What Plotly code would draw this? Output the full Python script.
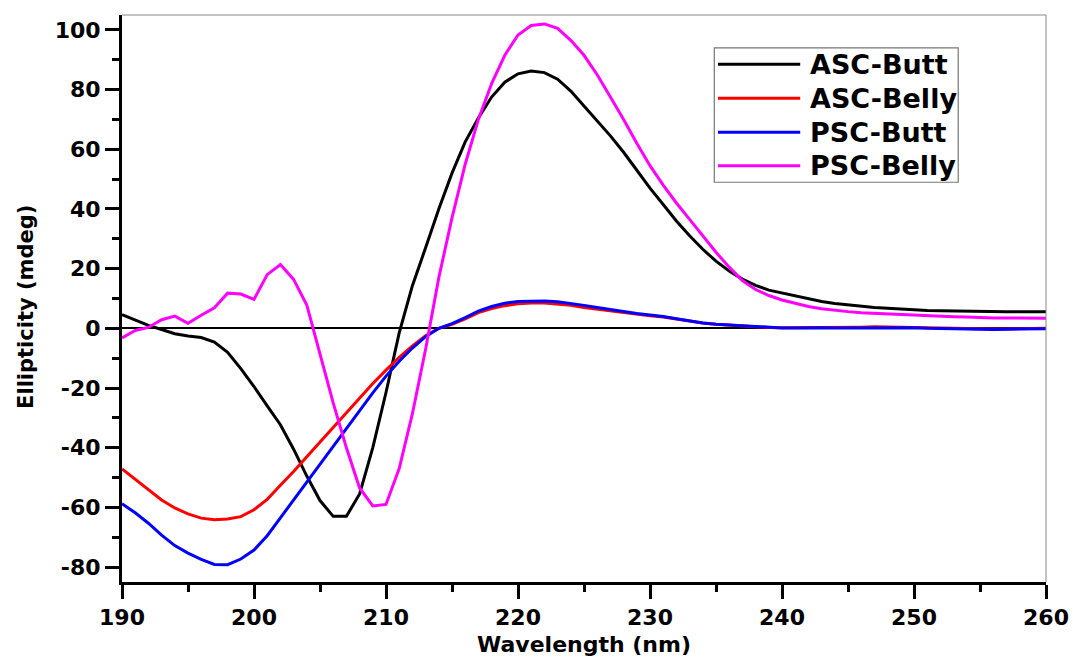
import plotly.graph_objects as go

wavelength = list(range(190, 261))

asc_butt = [4.6, 2.7, 1.0, -0.4, -1.8, -2.6, -3.1, -4.6, -8.0, -13.5,
            -19.5, -26.0, -32.3, -40.5, -49.5, -57.7, -63.0, -63.0, -55.5, -40.0,
            -21.5, -1.5, 14.3, 27.0, 40.0, 52.0, 62.5, 70.5, 77.5, 82.5,
            85.3, 86.2, 85.7, 83.5, 79.5, 74.5, 69.5, 64.5, 59.0, 53.0,
            47.0, 41.5, 36.0, 31.0, 26.5, 22.5, 19.2, 16.5, 14.4, 12.8,
            11.8, 10.8, 9.8, 9.0, 8.3, 7.8, 7.3, 7.0, 6.7, 6.4,
            6.2, 6.0, 5.9, 5.8, 5.7, 5.6, 5.6, 5.6, 5.6, 5.6,
            5.6]

asc_belly = [-47.1, -50.5, -54.0, -57.5, -60.2, -62.2, -63.6, -64.1, -63.9, -63.1,
             -60.8, -57.3, -52.6, -48.0, -43.0, -38.1, -33.3, -28.4, -23.3, -18.5,
             -14.0, -9.7, -5.9, -2.5, 0.0, 1.3, 3.2, 5.3, 6.6, 7.6,
             8.2, 8.5, 8.5, 8.2, 7.7, 7.0, 6.4, 5.8, 5.2, 4.6,
             4.2, 3.8, 3.1, 2.4, 1.8, 1.4, 1.1, 0.8, 0.5, 0.3,
             0.2, 0.2, 0.3, 0.4, 0.3, 0.3, 0.4, 0.5, 0.4, 0.3,
             0.2, 0.1, 0.0, -0.1, -0.1, -0.2, -0.2, -0.2, -0.1, 0.0,
             0.0]

psc_butt = [-58.8, -61.8, -65.3, -69.3, -72.8, -75.3, -77.4, -79.1, -79.2, -77.3,
            -74.3, -69.5, -63.5, -57.5, -51.3, -45.2, -39.3, -33.5, -27.6, -21.6,
            -16.0, -11.0, -6.6, -2.8, 0.0, 1.6, 3.6, 5.8, 7.3, 8.4,
            9.0, 9.2, 9.2, 8.9, 8.4, 7.7, 7.0, 6.3, 5.6, 5.0,
            4.5, 4.0, 3.2, 2.4, 1.8, 1.4, 1.1, 0.9, 0.6, 0.3,
            0.1, 0.1, 0.2, 0.2, 0.1, 0.1, 0.2, 0.3, 0.3, 0.3,
            0.2, 0.0, -0.1, -0.2, -0.2, -0.3, -0.4, -0.3, -0.2, -0.1,
            -0.1]

psc_belly = [-3.2, -0.7, 0.3, 2.9, 4.1, 1.7, 4.4, 6.9, 11.8, 11.5,
             9.7, 18.0, 21.4, 16.4, 7.8, -9.0, -25.0, -40.0, -53.5, -59.5,
             -59.0, -47.0, -28.6, -7.0, 17.0, 37.0, 55.0, 70.0, 82.0, 91.5,
             98.3, 101.5, 102.0, 100.5, 96.5, 91.5, 85.0, 77.5, 70.0, 62.0,
             54.5, 48.0, 42.0, 36.5, 31.0, 25.5, 20.5, 16.0, 13.0, 11.0,
             9.5, 8.3, 7.3, 6.6, 6.0, 5.6, 5.2, 5.0, 4.7, 4.5,
             4.3, 4.1, 4.0, 3.9, 3.8, 3.6, 3.5, 3.5, 3.4, 3.4,
             3.4]

series_names = ["ASC-Butt", "ASC-Belly", "PSC-Butt", "PSC-Belly"]
series_values = [asc_butt, asc_belly, psc_butt, psc_belly]
series_colors = ["#000000", "#FF0000", "#0000FF", "#FF00FF"]

x_ticks = [190, 200, 210, 220, 230, 240, 250, 260]
x_ticktext = ["190", "200", "210", "220", "230", "240", "250", "260"]
y_ticks = [-80, -60, -40, -20, 0, 20, 40, 60, 80, 100]
y_ticktext = ["-80", "-60", "-40", "-20", "0", "20", "40", "60", "80", "100"]

FONT = "DejaVu Sans"

fig = go.Figure()
for name, vals, col in zip(series_names, series_values, series_colors):
    fig.add_trace(go.Scatter(x=wavelength, y=vals, mode="lines", name=name,
                             line=dict(color=col, width=3), showlegend=False))

axis_common = dict(
    showline=True, linewidth=3, linecolor="black", mirror=False,
    ticks="outside", ticklen=14, tickwidth=2.5, tickcolor="black",
    showgrid=False, automargin=False,
    tickfont=dict(family=FONT, size=22, color="black", weight="bold"),
)

fig.update_xaxes(range=[190, 260], tickvals=x_ticks, ticktext=x_ticktext,
                 minor=dict(ticks="outside", ticklen=7, tickwidth=2.5, tickcolor="black", dtick=5, tick0=190),
                 zeroline=False, **axis_common)
fig.update_yaxes(range=[-85, 105], tickvals=y_ticks, ticktext=y_ticktext,
                 minor=dict(ticks="outside", ticklen=7, tickwidth=2.5, tickcolor="black", dtick=10, tick0=0),
                 zeroline=True, zerolinecolor="black", zerolinewidth=2, **axis_common)

# axis titles
fig.add_annotation(xref="paper", yref="paper", x=0.5, y=-0.111, text="Wavelength (nm)",
                   showarrow=False, xanchor="center", yanchor="middle",
                   font=dict(family=FONT, size=22, color="black", weight="bold"))
fig.add_annotation(xref="paper", yref="paper", x=-0.104, y=0.485, text="Ellipticity (mdeg)",
                   showarrow=False, xanchor="center", yanchor="middle", textangle=-90,
                   font=dict(family=FONT, size=21, color="black", weight="bold"))

# thin top / right frame
fig.add_shape(type="line", xref="paper", yref="paper", x0=0, x1=1, y0=1, y1=1,
              line=dict(color="#888888", width=1))
fig.add_shape(type="line", xref="paper", yref="paper", x0=1, x1=1, y0=0, y1=1,
              line=dict(color="#888888", width=1))

# legend (manual, Origin-style)
lx0, lx1, ly0, ly1 = 0.641, 0.905, 0.705, 0.942
fig.add_shape(type="rect", xref="paper", yref="paper", x0=lx0, x1=lx1, y0=ly0, y1=ly1,
              line=dict(color="#777777", width=1.2), fillcolor="white", layer="above")
leg_y = [0.913, 0.853, 0.793, 0.734]
for name, col, yy in zip(series_names, series_colors, leg_y):
    fig.add_shape(type="line", xref="paper", yref="paper", x0=0.645, x1=0.734, y0=yy, y1=yy,
                  line=dict(color=col, width=3), layer="above")
    fig.add_annotation(xref="paper", yref="paper", x=0.7425, y=yy, text=name, showarrow=False,
                       xanchor="left", yanchor="middle",
                       font=dict(family=FONT, size=27, color="black", weight="bold"))

fig.update_layout(
    width=1073, height=658,
    margin=dict(l=122, r=27, t=15, b=76),
    plot_bgcolor="white", paper_bgcolor="white",
)

fig.write_html("out.html")
